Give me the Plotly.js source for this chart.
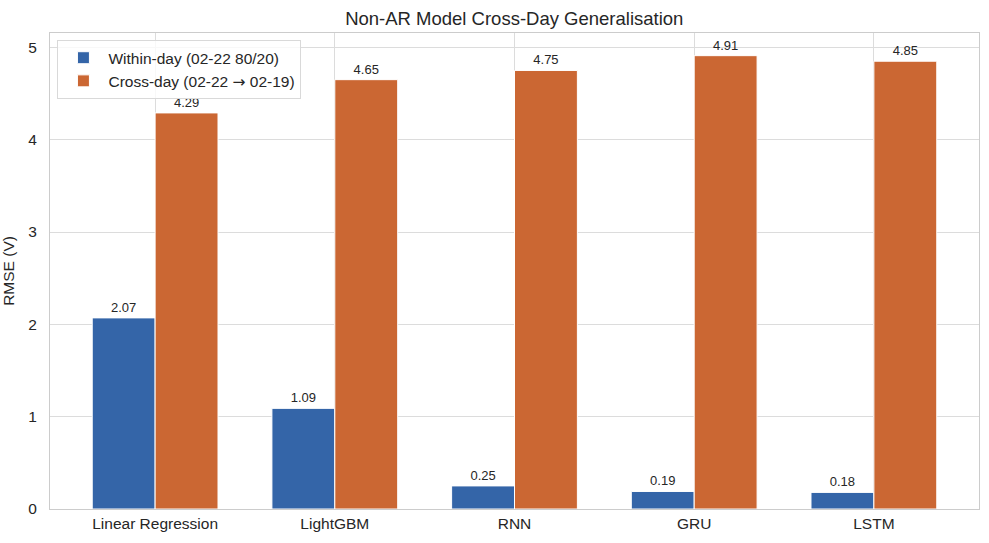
<!DOCTYPE html>
<html>
<head>
<meta charset="utf-8">
<script src="https://cdn.plot.ly/plotly-3.0.1.min.js"></script>
<style>
  html, body { margin: 0; padding: 0; background: #fff; }
  #chart { width: 989px; height: 543px; }
</style>
</head>
<body>
<div id="chart"></div>
<script>
// modelos y errores (RMSE en voltios)
const models = ["Linear Regression", "LightGBM", "RNN", "GRU", "LSTM"];
const withinDay = [2.07, 1.09, 0.25, 0.19, 0.18];
const crossDay = [4.29, 4.65, 4.75, 4.91, 4.85];
// la flecha en DejaVu porque en Liberation sale muy pequena
const seriesNames = [
  "Within-day (02-22 80/20)",
  "Cross-day (02-22 <span style=\"font-family:DejaVu Sans\">\u2192</span> 02-19)"
];

const font = "Liberation Sans, Arial, sans-serif";

function barTrace(name, values, color, offset) {
  return {
    x: models,
    y: values,
    name: name,
    type: "bar",
    width: 0.35,
    offset: offset,
    marker: { color: color, line: { color: "#ffffff", width: 1 } },
    text: values.map(v => v.toFixed(2)),
    textposition: "outside",
    textfont: { size: 13, color: "#262626", family: font },
    cliponaxis: false
  };
}

Plotly.newPlot(
  "chart",
  [
    barTrace(seriesNames[0], withinDay, "#3465a8", -0.35),
    barTrace(seriesNames[1], crossDay, "#cb6733", 0)
  ],
  {
    width: 989,
    height: 543,
    margin: { l: 50, r: 10, t: 33, b: 34 },
    paper_bgcolor: "#ffffff",
    plot_bgcolor: "#ffffff",
    font: { family: font, color: "#262626", size: 15.5 },
    title: {
      text: "Non-AR Model Cross-Day Generalisation",
      font: { size: 18.5, color: "#262626" },
      x: 0.52, xanchor: "center", y: 0.965, yanchor: "middle"
    },
    showlegend: true,
    legend: {
      x: 0.008, y: 0.985, xanchor: "left", yanchor: "top",
      bgcolor: "rgba(255,255,255,0.8)",
      bordercolor: "#d9d9d9", borderwidth: 1,
      font: { size: 15.5, color: "#262626" },
      traceorder: "normal",
      itemwidth: 40,
      tracegroupgap: 0
    },
    xaxis: {
      type: "category",
      range: [-0.585, 4.585],
      showgrid: true,
      gridcolor: "#dcdcdc",
      gridwidth: 1,
      showline: true,
      linecolor: "#cccccc",
      linewidth: 1,
      mirror: true,
      ticks: "",
      tickfont: { size: 15.5, color: "#262626" },
      fixedrange: true
    },
    yaxis: {
      range: [0, 5.1555],
      tickvals: [0, 1, 2, 3, 4, 5],
      showgrid: true,
      gridcolor: "#dcdcdc",
      gridwidth: 1,
      zeroline: false,
      showline: true,
      linecolor: "#cccccc",
      linewidth: 1,
      mirror: true,
      ticks: "",
      ticklabelstandoff: 9,
      tickfont: { size: 15.5, color: "#262626" },
      title: { text: "RMSE (V)", font: { size: 15.5, color: "#262626" }, standoff: 10 }
    },
    bargap: 0.3,
    bargroupgap: 0
  },
  { displayModeBar: false, responsive: false }
);
</script>
</body>
</html>
